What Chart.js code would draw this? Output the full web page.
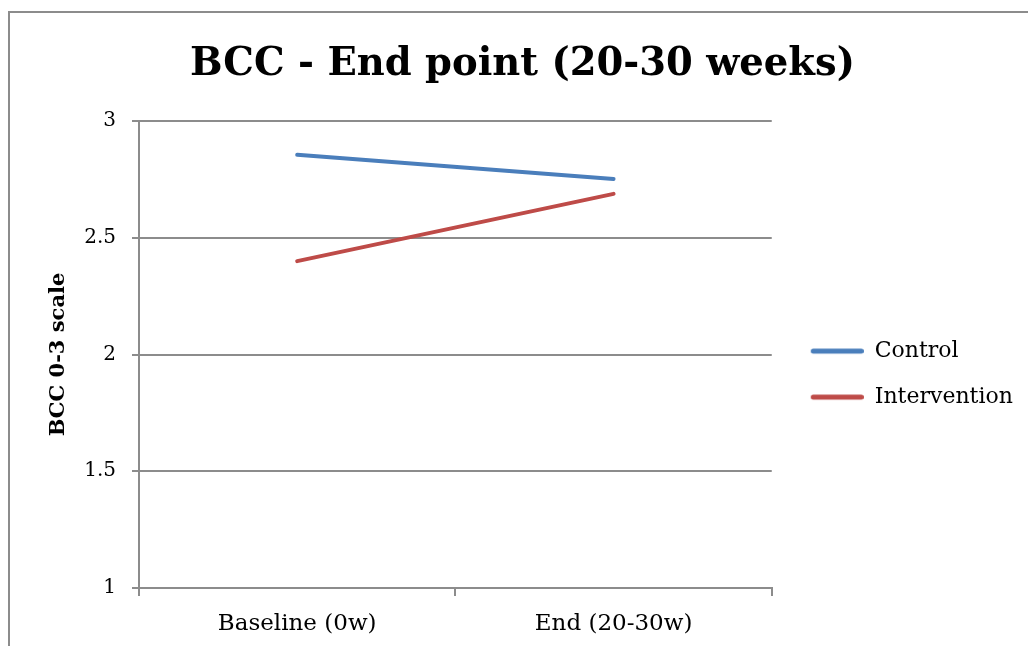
<!DOCTYPE html>
<html>
<head>
<meta charset="utf-8">
<script src="https://cdn.jsdelivr.net/npm/chart.js@4.4.0/dist/chart.umd.min.js"></script>
<style>
  html, body { margin: 0; padding: 0; background: #fff; }
  #wrap { position: relative; width: 1028px; height: 646px; overflow: hidden; }
  #frame { position: absolute; left: 8px; top: 11px; width: 1040px; height: 660px; border: 2px solid #8c8c8c; box-sizing: border-box; pointer-events: none; }
  canvas { position: absolute; left: 0; top: 0; }
</style>
</head>
<body>
<div id="wrap">
  <canvas id="c" width="1028" height="646"></canvas>
  <div id="frame"></div>
</div>
<script>
const categories = ["Baseline (0w)", "End (20-30w)"];
const controlValues = [2.855, 2.752];
const interventionValues = [2.40, 2.688];
const yTicks = [1, 1.5, 2, 2.5, 3];
const seriesNames = ["Control", "Intervention"];
const seriesColors = ['#4A7EBB', '#BE4B48'];

const FONT = "'DejaVu Serif', 'Liberation Serif', serif";
const grey = '#8c8c8c';

// legend swatch: a short round-capped line, with empty space on its left
function swatch(color) {
  const c = document.createElement('canvas');
  c.width = 68; c.height = 10;
  const g = c.getContext('2d');
  g.strokeStyle = color; g.lineWidth = 5; g.lineCap = 'round';
  g.beginPath(); g.moveTo(17.5, 5); g.lineTo(65.5, 5); g.stroke();
  return c;
}

new Chart(document.getElementById('c'), {
  type: 'line',
  data: {
    labels: categories,
    datasets: [
      { label: seriesNames[0], data: controlValues, borderColor: seriesColors[0], backgroundColor: seriesColors[0], borderWidth: 4, pointRadius: 0, pointStyle: swatch(seriesColors[0]), borderCapStyle: 'round', tension: 0 },
      { label: seriesNames[1], data: interventionValues, borderColor: seriesColors[1], backgroundColor: seriesColors[1], borderWidth: 4, pointRadius: 0, pointStyle: swatch(seriesColors[1]), borderCapStyle: 'round', tension: 0 }
    ]
  },
  options: {
    responsive: false,
    animation: false,
    devicePixelRatio: 1,
    layout: { padding: { left: 24, right: 7, top: 12, bottom: 10 } },
    plugins: {
      title: {
        display: true,
        text: 'BCC - End point (20-30 weeks)',
        color: '#000',
        font: { family: FONT, size: 38.5, weight: 'bold' },
        padding: { top: 30, bottom: 32.8 }
      },
      legend: {
        position: 'right',
        title: { display: true, text: ' ', font: { size: 1 }, padding: { top: 0, bottom: 99 } },
        labels: {
          usePointStyle: true,
          pointStyleWidth: 68,
          color: '#000',
          font: { family: FONT, size: 22 },
          padding: 24
        }
      },
      tooltip: { enabled: false }
    },
    scales: {
      x: {
        offset: true,
        grid: { display: true, drawOnChartArea: false, offset: true, color: grey, lineWidth: 2, tickLength: 8 },
        border: { color: grey, width: 2 },
        ticks: { color: '#000', font: { family: FONT, size: 23 }, padding: 14 },
        afterFit: (s) => { s.height = 48; }
      },
      y: {
        min: 1, max: 3,
        afterBuildTicks: (axis) => { axis.ticks = yTicks.map(v => ({ value: v })); },
        grid: { color: grey, lineWidth: 2, tickLength: 7, drawTicks: true },
        border: { color: grey, width: 2 },
        ticks: { color: '#000', font: { family: FONT, size: 20 }, padding: 16, callback: (v) => String(v) },
        title: {
          display: true,
          text: 'BCC 0-3 scale',
          color: '#000',
          font: { family: FONT, size: 21, weight: 'bold' },
          padding: { top: 22.4, bottom: 10 }
        },
        afterFit: (s) => { s.width = 115; }
      }
    }
  }
});
</script>
</body>
</html>
